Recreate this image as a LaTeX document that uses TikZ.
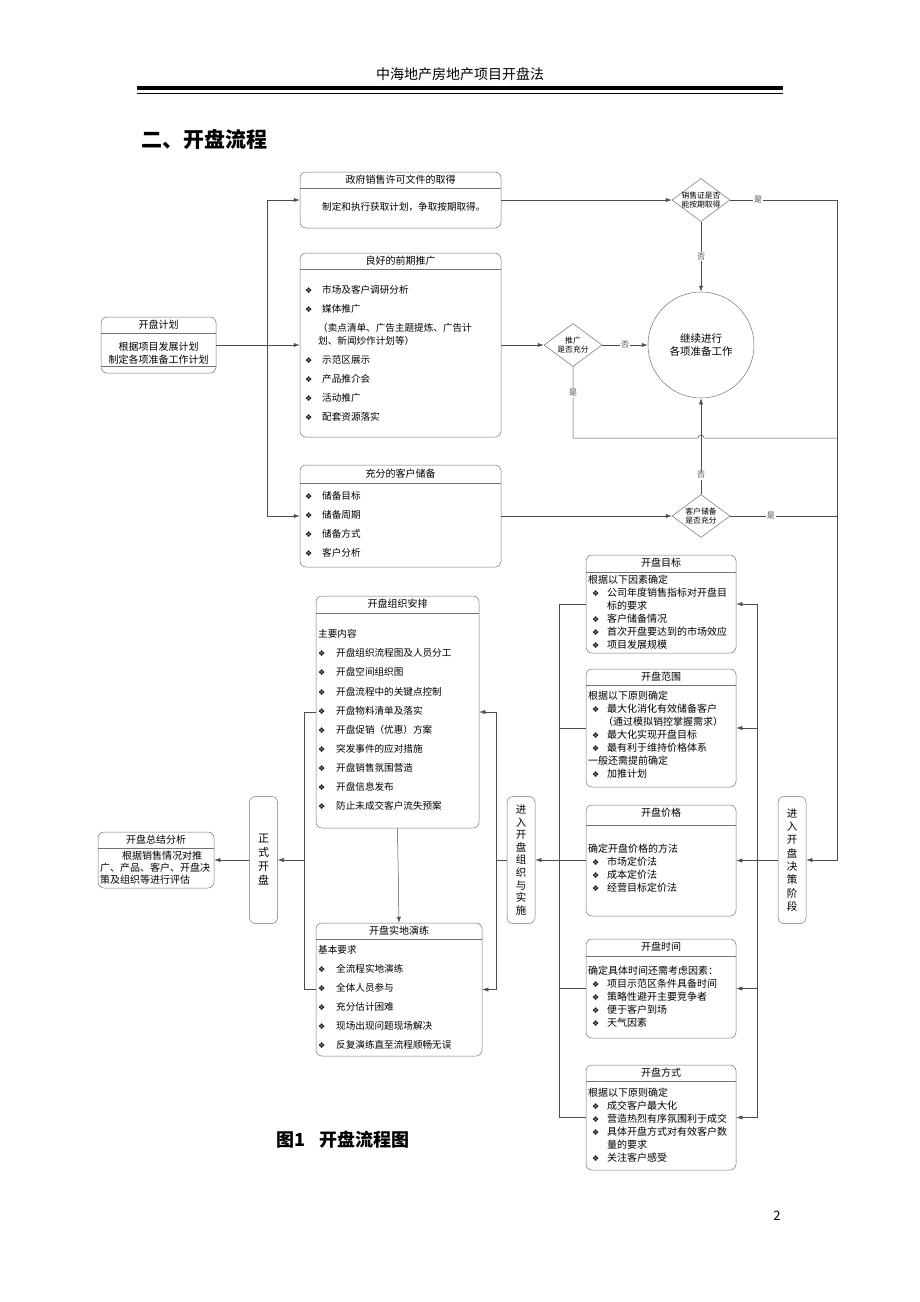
\documentclass[tikz,border=0pt]{standalone}
\usepackage{fontspec}
\setmainfont{Noto Sans CJK SC}
\newfontfamily\dingfont{DejaVu Sans}
\usetikzlibrary{arrows.meta, shapes.geometric, positioning}
\newcommand\fsz[2]{\fontsize{#1}{#2}\selectfont}
\newcommand\bul{{\dingfont\fsz{8}{8}❖}}
\newcommand\itm[1][17pt]{\makebox[#1][l]{\bul}}
\newcommand\ritm{\hspace*{4pt}\itm[15pt]}
\tikzset{
  panel/.style  = {draw=black!55, line width=0.5pt, rounded corners=6pt, inner sep=0pt},
  hline/.style  = {black!55, line width=0.5pt},
  ttl/.style    = {font=\fsz{10}{12}, inner sep=0pt},
  body/.style   = {font=\fsz{9.6}{19}, align=left, anchor=west, inner sep=0pt},
  rbody/.style  = {font=\fsz{10}{13}, align=left, anchor=west, inner sep=0pt},
  conn/.style   = {black!70, line width=0.5pt},
  arr/.style    = {conn, -{Latex[length=6pt,width=4pt]}},
  decide/.style = {diamond, draw=black!55, line width=0.5pt, shape aspect=1.35,
                   minimum width=58pt, minimum height=43pt, inner sep=-1pt,
                   align=center, font=\fsz{7.8}{9.5}},
  vbox/.style   = {panel, minimum width=28pt, minimum height=127pt, align=center,
                   font=\fsz{10.5}{13.3}},
  yn/.style     = {font=\fsz{8}{8}, inner sep=1pt, fill=white},
}

\begin{document}
\begin{tikzpicture}[x=1pt, y=-1pt]
  \useasboundingbox (0,0) rectangle (920,1302);
  \fill[white] (0,0) rectangle (920,1302);
  % page head
  \node[font=\fsz{14}{14}] (head) at (460,74) {中海地产房地产项目开盘法};
  \fill (137,86) rectangle (783,90);
  \draw[line width=0.8pt] (137,93) -- (783,93);
  \node[font=\bfseries\fsz{21}{21}, anchor=west] (sec) at (138,139) {二、开盘流程};

  % boxes
  \node[panel, minimum width=115pt, minimum height=56pt]  (plan)  at (158.5,345) {};
  \node[panel, minimum width=201pt, minimum height=56pt]  (gov)   at (400.5,200) {};
  \node[panel, minimum width=201pt, minimum height=184pt] (promo) at (400.5,345) {};
  \node[panel, minimum width=201pt, minimum height=102pt] (stock) at (400.5,516) {};
  \node[panel, minimum width=150pt, minimum height=98pt]  (goal)  at (661,604) {};
  \node[panel, minimum width=150pt, minimum height=118pt] (scope) at (661,728) {};
  \node[panel, minimum width=150pt, minimum height=111pt] (price) at (661,860.5) {};
  \node[panel, minimum width=150pt, minimum height=99pt]  (time)  at (661,988.5) {};
  \node[panel, minimum width=150pt, minimum height=105pt] (mode)  at (661,1117.5) {};
  \node[panel, minimum width=163pt, minimum height=232pt] (org)   at (397.5,712) {};
  \node[panel, minimum width=166pt, minimum height=133pt] (drill) at (399,989.5) {};
  \node[panel, minimum width=116pt, minimum height=56pt]  (summ)  at (156,860) {};
  \foreach \b/\ty/\ly/\t in {gov/180/188/政府销售许可文件的取得, promo/261/269/良好的前期推广,
      stock/474/483/充分的客户储备, plan/325/333/开盘计划, goal/563/572/开盘目标,
      scope/677/685/开盘范围, price/813/825/开盘价格, time/947/956/开盘时间,
      mode/1073/1081/开盘方式, org/604/613/开盘组织安排, drill/931/939/开盘实地演练,
      summ/840/848/开盘总结分析} {
    \node[ttl] (\b-t) at (\b.north |- 0,\ty) {\t};
    \draw[hline] (\b.west |- 0,\ly) -- (\b.east |- 0,\ly);
  }
  \draw[hline] (plan.west |- 0,366) -- (plan.east |- 0,366);

  % box texts
  \node[ttl, align=center, font=\fsz{10}{13}] (plan-b) at (158.5,353.5)
    {根据项目发展计划\\制定各项准备工作计划};
  \node[body] (gov-b) at (322,207) {制定和执行获取计划，争取按期取得。};
  \node[body] (promo-b) at (305,353.5) {\itm 市场及客户调研分析\\ \itm 媒体推广\\
    \hspace*{13pt}（卖点清单、广告主题提炼、广告计\\[-6pt]
    \hspace*{13pt}划、新闻炒作计划等）\\ \itm 示范区展示\\ \itm 产品推介会\\
    \itm 活动推广\\ \itm 配套资源落实};
  \node[body] (stock-b) at (305,524.5) {\itm 储备目标\\ \itm 储备周期\\ \itm 储备方式\\ \itm 客户分析};
  \node[body, font=\fsz{9.6}{19.1}] (org-b) at (318,720) {主要内容\\
    \itm[18pt]开盘组织流程图及人员分工\\ \itm[18pt]开盘空间组织图\\
    \itm[18pt]开盘流程中的关键点控制\\ \itm[18pt]开盘物料清单及落实\\
    \itm[18pt]开盘促销（优惠）方案\\ \itm[18pt]突发事件的应对措施\\
    \itm[18pt]开盘销售氛围营造\\ \itm[18pt]开盘信息发布\\ \itm[18pt]防止未成交客户流失预案};
  \node[body] (drill-b) at (318,997.5) {基本要求\\ \itm[18pt]全流程实地演练\\
    \itm[18pt]全体人员参与\\ \itm[18pt]充分估计困难\\ \itm[18pt]现场出现问题现场解决\\
    \itm[18pt]反复演练直至流程顺畅无误};
  \node[rbody, font=\fsz{10}{12}] (summ-b) at (100,868)
    {\hspace*{22pt}根据销售情况对推\\广、产品、客户、开盘决\\策及组织等进行评估};
  \node[rbody] (goal-b) at (588,612.5) {根据以下因素确定\\ \ritm 公司年度销售指标对开盘目\\
    \hspace*{19pt}标的要求\\ \ritm 客户储备情况\\ \ritm 首次开盘要达到的市场效应\\ \ritm 项目发展规模};
  \node[rbody] (scope-b) at (588,735) {根据以下原则确定\\ \ritm 最大化消化有效储备客户\\
    \hspace*{15pt}（通过模拟销控掌握需求）\\ \ritm 最大化实现开盘目标\\
    \ritm 最有利于维持价格体系\\ 一般还需提前确定\\ \ritm 加推计划};
  \node[rbody] (price-b) at (588,868.5) {确定开盘价格的方法\\ \ritm 市场定价法\\
    \ritm 成本定价法\\ \ritm 经营目标定价法};
  \node[rbody] (time-b) at (588,997) {确定具体时间还需考虑因素：\\ \ritm 项目示范区条件具备时间\\
    \ritm 策略性避开主要竞争者\\ \ritm 便于客户到场\\ \ritm 天气因素};
  \node[rbody] (mode-b) at (588,1125.5) {根据以下原则确定\\ \ritm 成交客户最大化\\
    \ritm 营造热烈有序氛围利于成交\\ \ritm 具体开盘方式对有效客户数\\
    \hspace*{19pt}量的要求\\ \ritm 关注客户感受};

  % decisions
  \node[decide] (q1) at (701,200) {销售证是否\\能按期取得};
  \node[decide] (q2) at (573,345) {推广\\是否充分};
  \node[decide] (q3) at (701,516) {客户储备\\是否充分};
  \node[circle, draw=black!55, line width=0.5pt, minimum size=106pt, inner sep=0pt,
        align=center, font=\fsz{10.5}{13}] (cont) at (701,345) {继续进行\\各项准备工作};

  % stage nodes
  \node[vbox] (dec)  at (792,860) {进\\入\\开\\盘\\决\\策\\阶\\段};
  \node[vbox, font=\fsz{10.5}{12.6}] (impl) at (521,860) {进\\入\\开\\盘\\组\\织\\与\\实\\施};
  \node[vbox, font=\fsz{11}{14}] (open) at (263.5,860) {正\\式\\开\\盘};

  % preparation stage
  \coordinate (split) at (267,345);
  \coordinate (rail) at (837,860);
  \draw[conn] (plan.east) -- (split);
  \draw[arr] (split) |- (gov.west);
  \draw[arr] (split) -- (promo.west);
  \draw[arr] (split) |- (stock.west);
  \draw[arr] (gov.east) -- (q1.west);
  \draw[arr] (promo.east) -- (q2.west);
  \draw[arr] (stock.east) -- (q3.west);
  \draw[arr] (q1.south) -- node[yn]{否} (cont.north);
  \draw[arr] (q2.east) -- node[yn]{否} (cont.west);
  \draw[arr] (q3.north) -- node[yn, pos=0.2]{否} (cont.south);
  \draw[arr] (q1.east) -| node[yn, pos=0.13]{是} (rail) -- (dec.east);
  \draw[conn] (q3.east) -- node[yn, pos=0.38]{是} (q3.east -| rail);
  \draw[conn] (q2.south) -- node[yn, pos=0.37]{是} (q2.south |- 0,438)
    -- (698,438) arc[start angle=180, end angle=360, radius=3] -- (rail |- 0,438);

  % decision stage
  \coordinate (rbus) at (757,860);
  \coordinate (lbus) at (559,860);
  \draw[conn] (dec.west) -- (rbus);
  \foreach \b in {goal,scope,price,time,mode} {
    \draw[arr] (rbus) |- (\b.east);
    \draw[conn] (\b.west) -| (lbus);
  }
  \draw[arr] (lbus) -- (impl.east);

  % organisation stage
  \coordinate (ibus) at (496,860);
  \coordinate (obus) at (304,860);
  \draw[conn] (impl.west) -- (ibus);
  \draw[arr] (ibus) |- (org.east);
  \draw[arr] (ibus) |- (drill.east);
  \draw[arr] (org.south) -- (drill.north);
  \draw[conn] (org.west) -| (obus);
  \draw[conn] (drill.west) -| (obus);
  \draw[arr] (obus) -- (open.east);
  \draw[arr] (open.west) -- (summ.east);

  % caption, page number
  \node[font=\bfseries\fsz{18}{18}, anchor=west] (cap) at (273,1140) {图1\hspace{14pt}开盘流程图};
  \node[font=\fsz{13}{13}] (pg) at (777,1216) {2};
\end{tikzpicture}
\end{document}
